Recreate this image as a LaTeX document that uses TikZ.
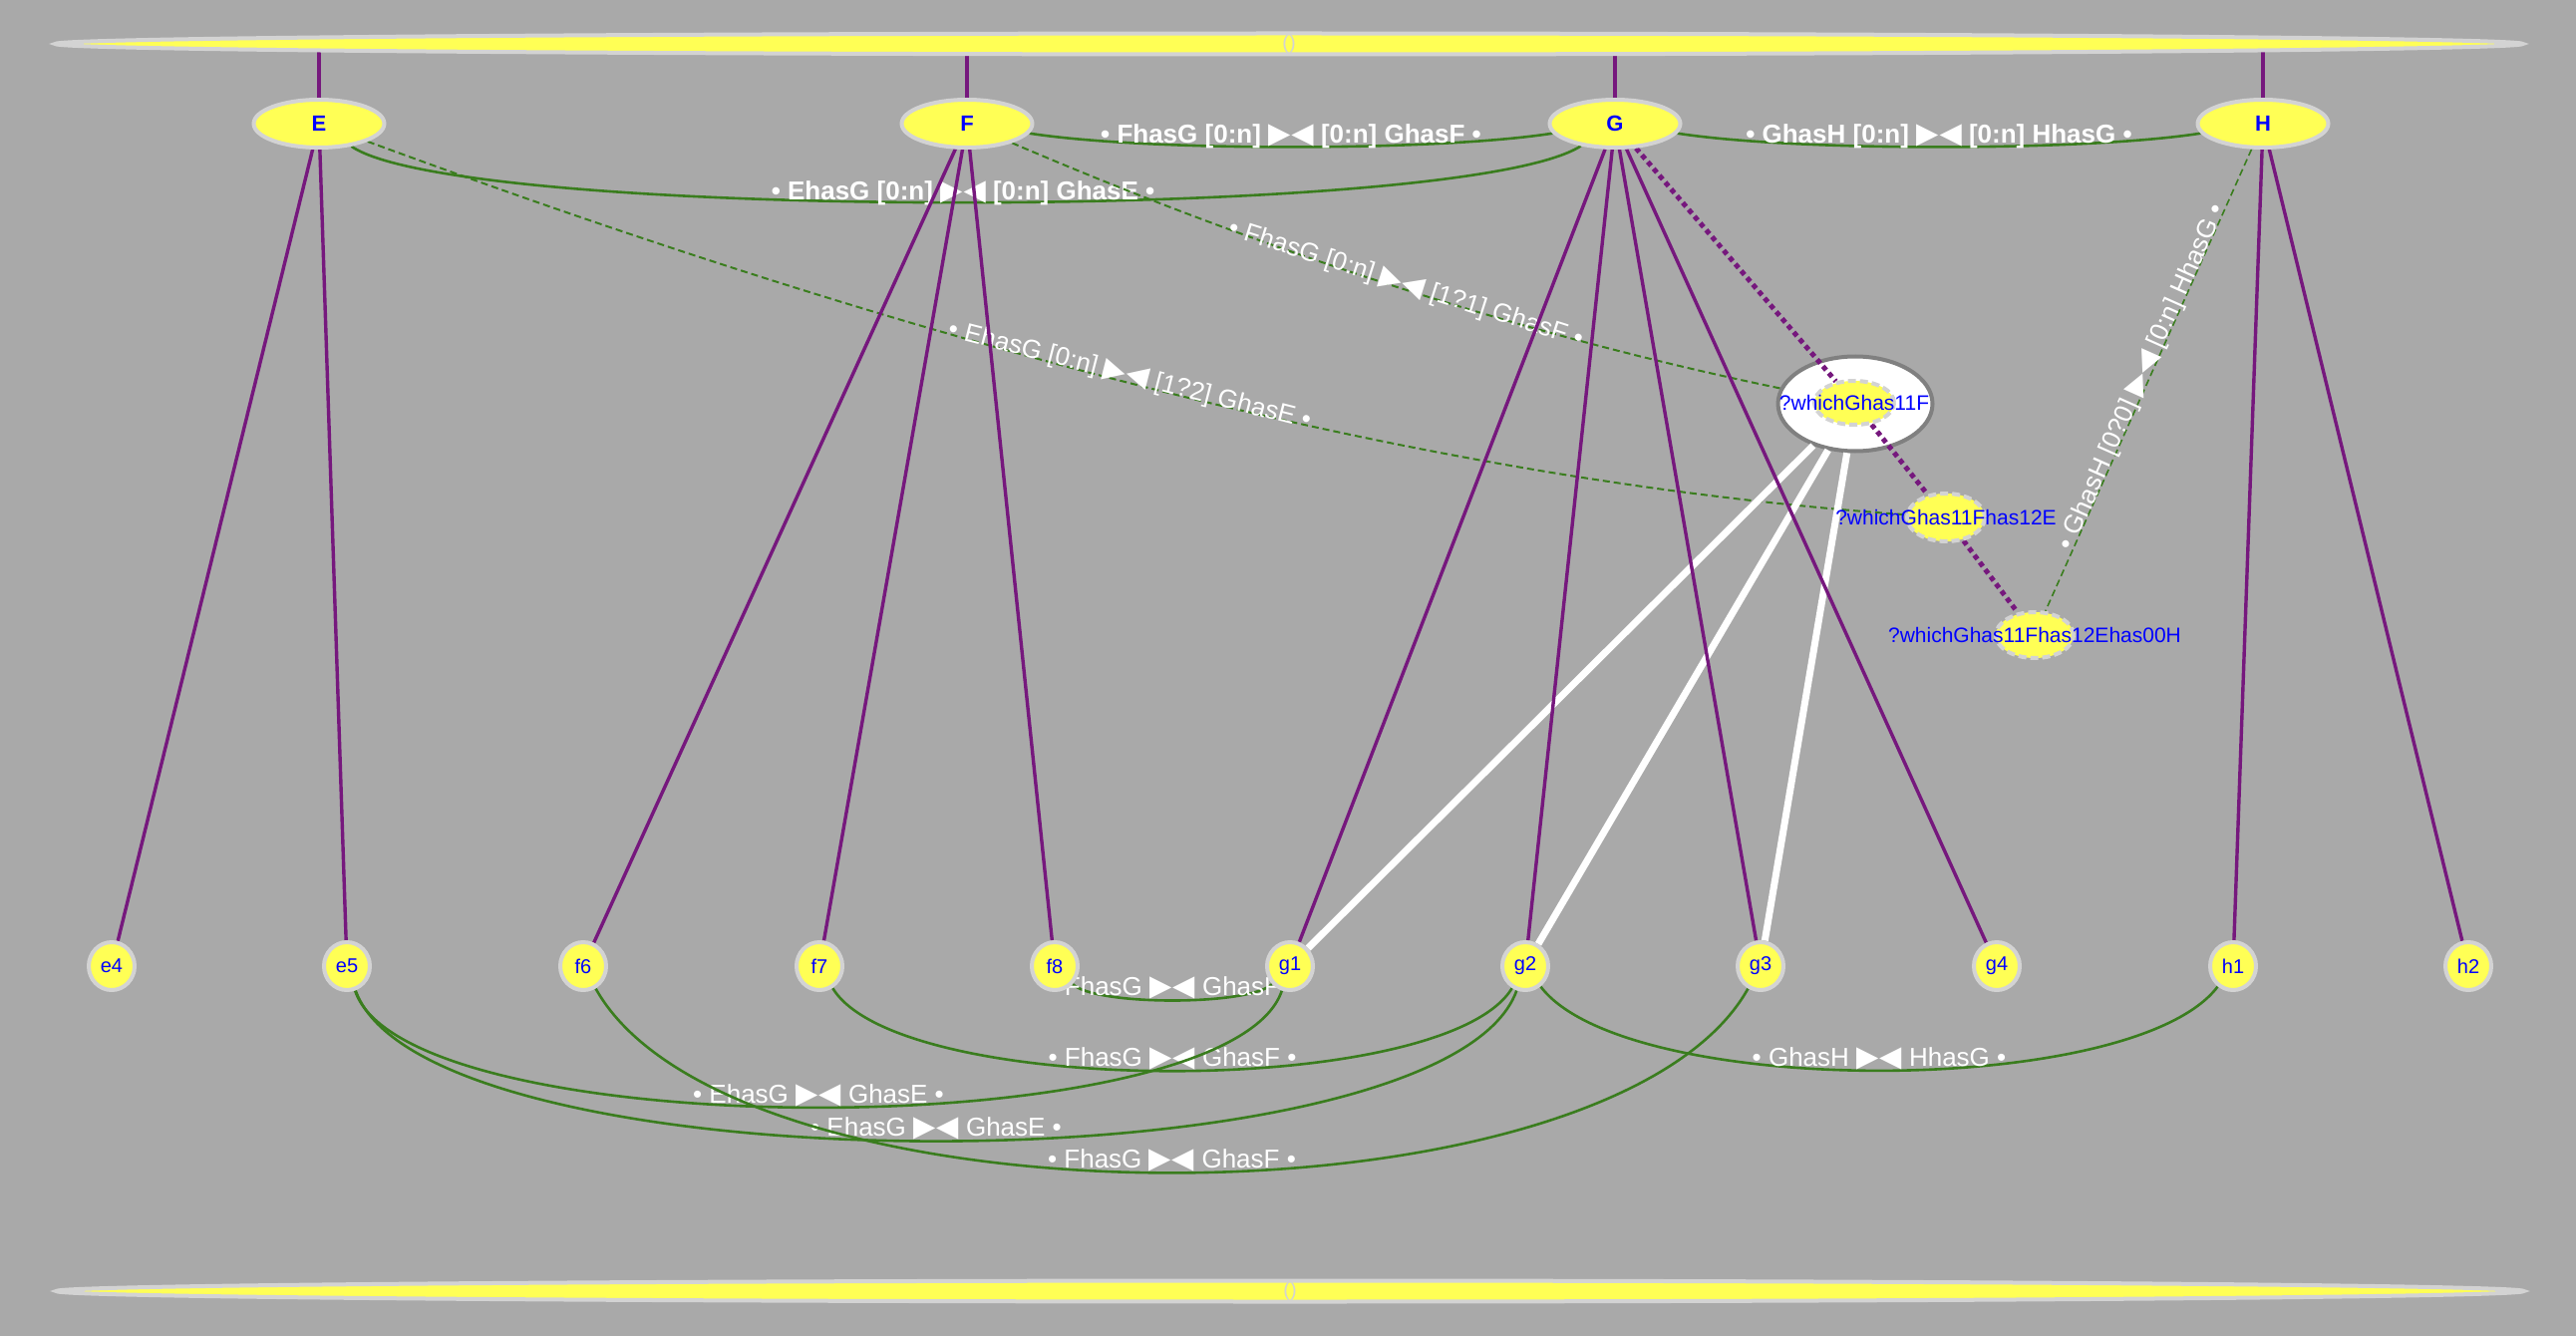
\documentclass[tikz,border=0pt]{standalone}
\usepackage{fontspec}
\setmainfont{Liberation Sans}
\newfontfamily\trifont{DejaVu Sans}
\usepackage{tikz}
\usetikzlibrary{shapes.geometric}
\pgfdeclarelayer{back}\pgfdeclarelayer{edges}
\pgfsetlayers{back,edges,main}
\definecolor{bggrey}{RGB}{169,169,169}
\definecolor{nodeyellow}{RGB}{255,255,85}
\definecolor{rim}{RGB}{211,211,211}
\definecolor{treepurple}{RGB}{118,24,125}
\definecolor{linkgreen}{RGB}{58,125,30}
\newcommand{\tribow}{{\trifont\fontsize{29}{30}\selectfont ▶\kern1pt◀}}

\begin{document}
\begin{tikzpicture}[x=1pt,y=-1pt,
  leaf/.style={ellipse,draw=rim,line width=4pt,fill=nodeyellow,inner sep=0pt,minimum width=46pt,minimum height=48pt,text=blue,font=\fontsize{20}{24}\selectfont},
  hub/.style={leaf,minimum width=131pt,font=\bfseries\fontsize{22}{26}\selectfont},
  query/.style={leaf,dash pattern=on 8pt off 4pt,font=\fontsize{21}{25}\selectfont},
  bar/.style={leaf,minimum width=2475pt,minimum height=21pt,label={[text=rim,font=\fontsize{20}{24}\selectfont]center:()}},
  cluster/.style={ellipse,draw=gray,line width=4pt,fill=white,inner sep=0pt,minimum width=155pt,minimum height=95pt},
  treeline/.style={treepurple,line width=3.4pt},
  qchain/.style={treepurple,line width=5pt,dash pattern=on 5pt off 4pt},
  hit/.style={white,line width=7pt},
  lnk/.style={linkgreen,line width=2.6pt},
  optlnk/.style={linkgreen,line width=2pt,dash pattern=on 7pt off 4pt},
  lbl/.style={text=white,inner sep=0pt,font=\fontsize{26}{30}\selectfont},
  lblb/.style={lbl,font=\bfseries\fontsize{26}{30}\selectfont}]

\begin{pgfonlayer}{back}
\fill[bggrey] (0,0) rectangle (2584,1340);
\node[cluster] (w1box) at (1861,405) {};
\end{pgfonlayer}
\useasboundingbox (0,0) rectangle (2584,1340);

\node[bar] (topbar) at (1293,44) {}; \node[bar] (botbar) at (1294,1295) {};
\node[hub] (E) at (320,124) {E}; \node[hub] (F) at (970,124) {F};
\node[hub] (G) at (1620,124) {G}; \node[hub] (H) at (2270,124) {H};

\node[leaf] (e4) at (112,969) {e4}; \node[leaf] (e5) at (348,969) {e5};
\node[leaf] (f6) at (585,969) {f6}; \node[leaf] (f7) at (822,969) {f7}; \node[leaf] (f8) at (1058,969) {f8};
\node[leaf] (g1) at (1294,969) {g1}; \node[leaf] (g2) at (1530,969) {g2};
\node[leaf] (g3) at (1766,969) {g3}; \node[leaf] (g4) at (2003,969) {g4};
\node[leaf] (h1) at (2240,969) {h1}; \node[leaf] (h2) at (2476,969) {h2};

\node[query,minimum width=80pt,minimum height=44pt] (w1) at (1860,404) {\makebox[0pt]{?whichGhas11F}};
\node[query,minimum width=78pt,minimum height=48pt] (w2) at (1952,519) {\makebox[0pt]{?whichGhas11Fhas12E}};
\node[query,minimum width=78pt,minimum height=46pt] (w3) at (2041,637) {\makebox[0pt]{?whichGhas11Fhas12Ehas00H}};

\begin{pgfonlayer}{edges}
\draw[lnk] (F) .. controls (1150,152) and (1440,152) .. node[lblb,anchor=base,yshift=4pt] {• FhasG [0:n] \tribow{} [0:n] GhasF •} (G);
\draw[lnk] (G) .. controls (1800,152) and (2090,152) .. node[lblb,anchor=base,yshift=4pt] {• GhasH [0:n] \tribow{} [0:n] HhasG •} (H);
\draw[lnk] (E) .. controls (460,222) and (1470,222) .. node[lblb,anchor=base,yshift=3pt] {• EhasG [0:n] \tribow{} [0:n] GhasE •} (G);

\draw[optlnk] (F) .. controls (1259,248) and (1522,335) .. node[lbl,sloped,anchor=base,pos=0.52,yshift=-2pt] {• FhasG [0:n] \tribow{} [1?1] GhasF •} (w1box);
\draw[optlnk] (E) .. controls (864,324) and (1393,480) .. node[lbl,sloped,anchor=base] {• EhasG [0:n] \tribow{} [1?2] GhasE •} (w2);
\draw[optlnk,line width=1.6pt] (H) -- node[lbl,sloped,anchor=base] {• GhasH [0?0] \tribow{} [0:n] HhasG •} (w3);

\draw[lnk] (f8) .. controls +(40,40) and +(-40,40) .. node[lbl,above] {• FhasG \tribow{} GhasF •} (g1);
\draw[lnk] (f7) .. controls +(80,133) and +(-80,133) .. node[lbl,above] {• FhasG \tribow{} GhasF •} (g2);
\draw[lnk] (e5) .. controls +(60,181) and +(-60,181) .. node[lbl,above] {• EhasG \tribow{} GhasE •} (g1);
\draw[lnk] (e5) .. controls +(80,226) and +(-80,226) .. node[lbl,above] {• EhasG \tribow{} GhasE •} (g2);
\draw[lnk] (f6) .. controls +(150,269) and +(-150,269) .. node[lbl,above] {• FhasG \tribow{} GhasF •} (g3);
\draw[lnk] (g2) .. controls +(100,133) and +(-100,133) .. node[lbl,above] {• GhasH \tribow{} HhasG •} (h1);

\draw[hit] (w1box) -- (g1); \draw[hit] (w1box) -- (g2); \draw[hit] (w1box) -- (g3);

\draw[treeline] (E |- topbar) -- (E); \draw[treeline] (F |- topbar) -- (F);
\draw[treeline] (G |- topbar) -- (G); \draw[treeline] (H |- topbar) -- (H);
\draw[treeline] (E) -- (e4); \draw[treeline] (E) -- (e5);
\draw[treeline] (F) -- (f6); \draw[treeline] (F) -- (f7); \draw[treeline] (F) -- (f8);
\draw[treeline] (G) -- (g1); \draw[treeline] (G) -- (g2); \draw[treeline] (G) -- (g3); \draw[treeline] (G) -- (g4);
\draw[treeline] (H) -- (h1); \draw[treeline] (H) -- (h2);

\draw[qchain] (G) -- (w1) -- (w2) -- (w3);
\end{pgfonlayer}
\end{tikzpicture}
\end{document}
